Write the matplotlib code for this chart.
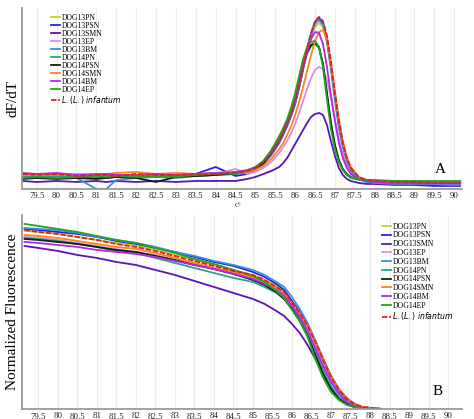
import matplotlib
matplotlib.use("Agg")
import matplotlib.pyplot as plt
from matplotlib.ticker import FuncFormatter, MultipleLocator

plt.rcParams['font.family'] = ['Liberation Serif', 'DejaVu Serif']

# ---- series names / colours ----
names = ["DOG13PN", "DOG13PSN", "DOG13SMN", "DOG13EP", "DOG13BM",
         "DOG14PN", "DOG14PSN", "DOG14SMN", "DOG14BM", "DOG14EP",
         "L.(L.) infantum"]
colors = ["#c4d020", "#2424dc", "#5a14b8", "#e08ae6", "#3d8fe0",
          "#22a886", "#102010", "#ff8020", "#b824ec", "#22a622",
          "#dd2222"]

# ---- A: melt peaks (dF/dT, arbitrary units) ----
temp_a = [79.15, 79.5, 80.0, 80.5, 81.0, 81.25, 81.5, 82.0, 82.5, 83.0,
          83.5, 84.0, 84.5, 84.8, 85.0, 85.2, 85.4, 85.6, 85.7, 85.8,
          85.9, 86.0, 86.1, 86.2, 86.3, 86.4, 86.5, 86.6, 86.7, 86.8,
          86.9, 87.0, 87.1, 87.2, 87.3, 87.4, 87.6, 87.8, 88.0, 88.5,
          89.0, 89.5, 90.0, 90.15]

dog13pn_a = [13, 13, 12, 13, 13, 12, 13, 14, 13, 13, 14, 15, 16, 18, 21, 27, 36, 48, 56, 64,
             74, 86, 101, 119, 137, 152, 162, 166, 162, 146, 118, 88, 61, 41, 27, 18, 10, 8, 7, 6,
             6, 6, 6, 6]
dog13psn_a = [12, 11, 12, 11, 12, 11, 12, 12, 12, 13, 15, 22, 13, 15, 19, 25, 34, 46, 54, 63,
              73, 85, 101, 120, 139, 155, 167, 171, 166, 150, 123, 92, 64, 43, 29, 19, 10, 7, 6, 5,
              5, 5, 5, 5]
dog13smn_a = [8, 7, 8, 7, 8, 7, 8, 7, 8, 7, 8, 8, 8, 10, 12, 15, 18, 22, 26, 31,
              38, 45, 52, 59, 66, 72, 75, 76, 74, 64, 48, 33, 21, 14, 10, 8, 6, 5, 5, 4,
              4, 3, 3, 3]
dog13ep_a = [13, 14, 13, 14, 13, 13, 14, 13, 14, 13, 14, 15, 20, 15, 17, 21, 27, 36, 42, 48,
             56, 65, 76, 88, 100, 111, 119, 122, 120, 109, 91, 70, 50, 35, 24, 17, 10, 8, 7, 6,
             6, 6, 6, 6]
dog13bm_a = [11, 12, 11, 11, 0, 0, 9, 11, 12, 11, 13, 14, 15, 17, 20, 26, 35, 47, 55, 64,
             74, 86, 102, 121, 139, 154, 165, 169, 164, 148, 121, 90, 62, 42, 28, 18, 10, 7, 6, 5,
             5, 5, 4, 4]
dog14pn_a = [12, 12, 13, 12, 12, 13, 12, 13, 12, 13, 13, 14, 15, 17, 20, 26, 35, 48, 56, 65,
             76, 89, 105, 121, 135, 143, 145, 141, 124, 95, 65, 43, 28, 19, 14, 11, 9, 8, 7, 7,
             7, 6, 6, 6]
dog14psn_a = [10, 11, 10, 11, 10, 11, 12, 11, 7, 12, 13, 14, 16, 18, 20, 26, 36, 49, 57, 66,
              77, 90, 106, 123, 137, 144, 146, 142, 125, 96, 66, 44, 29, 20, 15, 12, 10, 9, 8, 8,
              7, 7, 7, 7]
dog14smn_a = [14, 15, 14, 15, 14, 15, 16, 17, 15, 16, 15, 16, 16, 17, 19, 23, 30, 40, 46, 54,
              63, 74, 87, 102, 118, 134, 148, 157, 159, 150, 127, 98, 70, 48, 32, 22, 12, 9, 8, 7,
              7, 7, 7, 7]
dog14bm_a = [16, 15, 16, 14, 15, 15, 14, 14, 15, 14, 15, 16, 17, 19, 22, 28, 37, 50, 58, 67,
             78, 91, 106, 122, 137, 150, 157, 156, 145, 122, 94, 68, 46, 31, 21, 15, 10, 8, 7, 6,
             6, 6, 6, 6]
dog14ep_a = [11, 12, 11, 12, 13, 12, 13, 12, 13, 12, 14, 15, 16, 18, 21, 28, 39, 53, 61, 70,
             82, 96, 113, 130, 142, 147, 148, 142, 122, 90, 60, 40, 27, 19, 14, 12, 10, 9, 9, 8,
             8, 8, 8, 8]
linf_a = [15, 14, 15, 13, 14, 14, 13, 15, 14, 14, 15, 15, 16, 18, 21, 27, 36, 49, 57, 66,
          76, 88, 104, 123, 141, 156, 168, 172, 168, 153, 127, 96, 68, 46, 31, 21, 12, 9, 8, 7,
          7, 6, 6, 6]

# ---- B: normalized fluorescence ----
temp_b = [79.15, 79.5, 80.0, 80.5, 81.0, 81.5, 82.0, 82.5, 83.0, 83.5,
          84.0, 84.5, 85.0, 85.3, 85.6, 85.8, 86.0, 86.2, 86.4, 86.6,
          86.8, 87.0, 87.2, 87.4, 87.6, 87.8, 88.0, 88.3]

dog13pn_b = [178, 177, 175, 172, 169, 166, 163, 159, 154, 149, 144, 139, 134, 129, 123, 118,
             107, 97, 84, 68, 50, 33, 20, 11, 5, 2, 1, 0]
dog13psn_b = [180, 179, 177, 175, 172, 168, 165, 161, 157, 152, 147, 143, 137, 132, 125, 119,
              108, 97, 84, 68, 50, 33, 20, 11, 5, 2, 1, 0]
dog13smn_b = [163, 161, 158, 154, 151, 147, 144, 139, 134, 128, 122, 116, 110, 105, 98, 93,
              85, 76, 64, 50, 34, 21, 11, 5, 2, 1, 0, 0]
dog13ep_b = [172, 171, 169, 166, 163, 160, 157, 154, 149, 145, 140, 136, 131, 126, 120, 115,
             105, 94, 81, 65, 47, 30, 17, 9, 4, 2, 1, 0]
dog13bm_b = [181, 180, 179, 176, 172, 169, 166, 162, 157, 153, 148, 144, 139, 134, 127, 122,
             112, 100, 86, 68, 48, 31, 18, 9, 4, 2, 1, 0]
dog14pn_b = [171, 170, 168, 165, 162, 158, 156, 151, 146, 141, 136, 131, 127, 122, 116, 110,
             101, 90, 76, 58, 39, 23, 12, 6, 3, 1, 0, 0]
dog14psn_b = [170, 169, 167, 165, 162, 159, 157, 153, 149, 144, 140, 135, 129, 124, 117, 110,
              100, 88, 73, 54, 35, 20, 10, 5, 2, 1, 0, 0]
dog14smn_b = [174, 173, 171, 168, 165, 162, 160, 156, 151, 146, 141, 137, 132, 127, 121, 116,
              106, 96, 83, 68, 50, 33, 20, 11, 5, 2, 1, 0]
dog14bm_b = [167, 166, 164, 162, 159, 157, 155, 152, 148, 144, 140, 135, 130, 125, 119, 113,
             103, 92, 78, 61, 43, 27, 15, 7, 3, 1, 0, 0]
dog14ep_b = [185, 183, 180, 177, 173, 169, 166, 161, 156, 150, 145, 139, 133, 127, 118, 111,
             99, 88, 72, 50, 31, 17, 9, 4, 2, 1, 0, 0]
linf_b = [179, 177, 175, 172, 169, 165, 162, 158, 153, 148, 143, 138, 134, 129, 122, 117,
          106, 96, 83, 67, 49, 32, 19, 10, 5, 2, 1, 0]

series_a = [dog13pn_a, dog13psn_a, dog13smn_a, dog13ep_a, dog13bm_a, dog14pn_a,
            dog14psn_a, dog14smn_a, dog14bm_a, dog14ep_a, linf_a]
series_b = [dog13pn_b, dog13psn_b, dog13smn_b, dog13ep_b, dog13bm_b, dog14pn_b,
            dog14psn_b, dog14smn_b, dog14bm_b, dog14ep_b, linf_b]

fig = plt.figure(figsize=(4.74, 4.19), dpi=100)
ax1 = fig.add_axes([0.046, 0.549, 0.929, 0.432])
ax2 = fig.add_axes([0.046, 0.024, 0.929, 0.463])


def style_axis(ax, comma):
    for s in ("top", "right"):
        ax.spines[s].set_visible(False)
    for s in ("left", "bottom"):
        ax.spines[s].set_color("#9a9a9a")
        ax.spines[s].set_linewidth(1.3)
    ax.xaxis.set_major_locator(MultipleLocator(0.5))
    if comma:
        ax.xaxis.set_major_formatter(FuncFormatter(lambda v, p: f"{v:g}".replace(".", ",")))
    else:
        ax.xaxis.set_major_formatter(FuncFormatter(lambda v, p: f"{v:g}"))
    ax.set_yticks([])
    ax.tick_params(axis="x", length=0, pad=2.5, labelsize=6.3, colors="#222222")
    ax.grid(axis="x", color="#ececec", linewidth=0.8)
    ax.set_axisbelow(True)


def label_of(n):
    return "$\\it{L.(L.)\\ infantum}$" if n.startswith("L.") else n


# ---- panel A ----
for n, c, y in zip(names, colors, series_a):
    ls = (0, (3, 1)) if n.startswith("L.") else "-"
    ax1.plot(temp_a, y, color=c, lw=1.3, ls=ls, label=label_of(n))
ax1.set_xlim(79.125, 90.2)
ax1.set_ylim(0, 181)
style_axis(ax1, comma=False)
ax1.set_ylabel("dF/dT", fontsize=11, labelpad=2)
ax1.text(0.95, 0.11, "A", transform=ax1.transAxes, fontsize=11, ha="center", va="center")
ax1.text(0.49, -0.075, "C°", transform=ax1.transAxes, fontsize=4.5, ha="center", va="top")
leg1 = ax1.legend(loc="upper left", bbox_to_anchor=(0.057, 0.99), frameon=False,
                  fontsize=5.5, handlelength=1.2, handletextpad=0.2, labelspacing=0.0,
                  borderaxespad=0.1)

# ---- panel B ----
for n, c, y in zip(names, colors, series_b):
    ls = (0, (3, 1)) if n.startswith("L.") else "-"
    ax2.plot(temp_b, y, color=c, lw=1.3, ls=ls, label=label_of(n))
ax2.set_xlim(79.08, 90.36)
ax2.set_ylim(0, 194)
style_axis(ax2, comma=True)
ax2.set_ylabel("Normalized Fluorescence", fontsize=11, labelpad=2)
ax2.text(0.945, 0.09, "B", transform=ax2.transAxes, fontsize=11, ha="center", va="center")
leg2 = ax2.legend(loc="upper left", bbox_to_anchor=(0.81, 0.98), frameon=False,
                  fontsize=5.6, handlelength=1.1, handletextpad=0.2, labelspacing=0.1,
                  borderaxespad=0.1)

fig.savefig("out.png", dpi=100)
